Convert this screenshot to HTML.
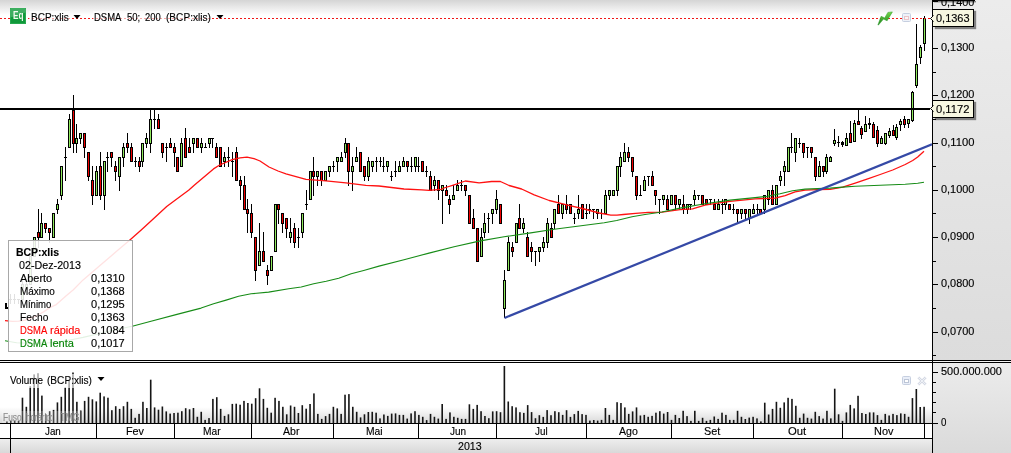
<!DOCTYPE html>
<html><head><meta charset="utf-8"><title>BCP:xlis</title>
<style>
html,body{margin:0;padding:0;background:#fff;}
body{width:1011px;height:453px;overflow:hidden;position:relative;font-family:"Liberation Sans",sans-serif;font-size:11px;color:#000;}
#c{position:absolute;left:0;top:0;width:1011px;height:453px;overflow:hidden;background:#fff;}
.abs{position:absolute;}
#topg{left:0;top:0;width:932px;height:15px;background:linear-gradient(#d5d5d5,#fff);}
#ax1{left:933px;top:0;width:78px;height:360px;background:linear-gradient(#ececec,#dcdcdc);}
#ax2{left:933px;top:363px;width:78px;height:90px;background:linear-gradient(#ececec,#dadada);}
#volg{left:0;top:407px;width:932px;height:16px;background:linear-gradient(#fff,#d9d9d9);}
#yr{left:0;top:439px;width:932px;height:14px;background:linear-gradient(#eeeeee,#d9d9d9);text-align:center;line-height:13px;}
.mo{position:absolute;top:424px;height:14px;line-height:13px;text-align:center;}
.al{position:absolute;left:941px;height:14px;line-height:14px;white-space:nowrap;}
svg{position:absolute;left:0;top:0;}
.tag{position:absolute;left:933px;width:40px;height:16px;background:#f7f7e1;border:1px solid #000;border-left:none;box-shadow:2px 2px 1px rgba(0,0,0,.45);line-height:16px;text-indent:4px;box-sizing:content-box;}
#tip{left:8px;top:240px;width:123px;height:110px;border:1px solid #a8a8a8;background:rgba(255,255,255,.88);}
#tip div{position:absolute;white-space:nowrap;height:13px;line-height:13px;}
.lbl{position:absolute;white-space:nowrap;height:14px;line-height:14px;}
.t{position:absolute;white-space:nowrap;height:13px;line-height:13px;transform-origin:0 0;display:block;-webkit-text-stroke:0.15px currentColor;}
</style></head><body><div id="c">
<div id="topg" class="abs"></div>
<div id="volg" class="abs"></div>
<div id="ax1" class="abs"></div>
<div id="ax2" class="abs"></div>
<div id="yr" class="abs"></div>
<span class="t" style="left:458.3px;top:439.5px;transform:scaleX(0.9645);">2013</span>
<svg width="1011" height="453" viewBox="0 0 1011 453">
<defs><clipPath id="cp"><rect x="5" y="0" width="927" height="360"/></clipPath>
<clipPath id="cv"><rect x="5" y="363" width="927" height="61"/></clipPath></defs>
<g clip-path="url(#cp)">
<g shape-rendering="crispEdges" fill="#000">
<rect x="10" y="294" width="1" height="10"/>
<rect x="9" y="299" width="3" height="1"/>
<rect x="14" y="294" width="1" height="10"/>
<rect x="13" y="299" width="3" height="1"/>
<rect x="18" y="299" width="1" height="5"/>
<rect x="17" y="299" width="3" height="1"/>
<rect x="22" y="280" width="1" height="20"/>
<rect x="21" y="284" width="3" height="16"/>
<rect x="22" y="285" width="1" height="14" fill="#90ea5e"/>
<rect x="26" y="280" width="1" height="10"/>
<rect x="25" y="284" width="3" height="6"/>
<rect x="26" y="285" width="1" height="4" fill="#90ea5e"/>
<rect x="30" y="256" width="1" height="29"/>
<rect x="29" y="256" width="3" height="29"/>
<rect x="30" y="257" width="1" height="27" fill="#90ea5e"/>
<rect x="34" y="237" width="1" height="20"/>
<rect x="33" y="237" width="3" height="20"/>
<rect x="34" y="238" width="1" height="18" fill="#90ea5e"/>
<rect x="38" y="209" width="1" height="39"/>
<rect x="37" y="232" width="3" height="6"/>
<rect x="38" y="233" width="1" height="4" fill="#f00000"/>
<rect x="41" y="213" width="1" height="25"/>
<rect x="40" y="223" width="3" height="15"/>
<rect x="41" y="224" width="1" height="13" fill="#90ea5e"/>
<rect x="45" y="223" width="1" height="10"/>
<rect x="44" y="223" width="3" height="6"/>
<rect x="45" y="224" width="1" height="4" fill="#f00000"/>
<rect x="49" y="228" width="1" height="15"/>
<rect x="48" y="228" width="3" height="5"/>
<rect x="49" y="229" width="1" height="3" fill="#f00000"/>
<rect x="53" y="213" width="1" height="25"/>
<rect x="52" y="213" width="3" height="25"/>
<rect x="53" y="214" width="1" height="23" fill="#90ea5e"/>
<rect x="57" y="199" width="1" height="15"/>
<rect x="56" y="204" width="3" height="6"/>
<rect x="57" y="205" width="1" height="4" fill="#90ea5e"/>
<rect x="61" y="166" width="1" height="34"/>
<rect x="60" y="166" width="3" height="30"/>
<rect x="61" y="167" width="1" height="28" fill="#90ea5e"/>
<rect x="65" y="147" width="1" height="34"/>
<rect x="64" y="157" width="3" height="1"/>
<rect x="69" y="114" width="1" height="34"/>
<rect x="68" y="119" width="3" height="29"/>
<rect x="69" y="120" width="1" height="27" fill="#90ea5e"/>
<rect x="73" y="95" width="1" height="58"/>
<rect x="72" y="110" width="3" height="34"/>
<rect x="73" y="111" width="1" height="32" fill="#f00000"/>
<rect x="76" y="124" width="1" height="29"/>
<rect x="75" y="138" width="3" height="6"/>
<rect x="76" y="139" width="1" height="4" fill="#90ea5e"/>
<rect x="80" y="133" width="1" height="11"/>
<rect x="79" y="133" width="3" height="6"/>
<rect x="80" y="134" width="1" height="4" fill="#90ea5e"/>
<rect x="84" y="133" width="1" height="25"/>
<rect x="83" y="133" width="3" height="15"/>
<rect x="84" y="134" width="1" height="13" fill="#f00000"/>
<rect x="88" y="152" width="1" height="29"/>
<rect x="87" y="152" width="3" height="25"/>
<rect x="88" y="153" width="1" height="23" fill="#f00000"/>
<rect x="92" y="166" width="1" height="39"/>
<rect x="91" y="180" width="3" height="16"/>
<rect x="92" y="181" width="1" height="14" fill="#f00000"/>
<rect x="96" y="166" width="1" height="30"/>
<rect x="95" y="171" width="3" height="25"/>
<rect x="96" y="172" width="1" height="23" fill="#90ea5e"/>
<rect x="100" y="152" width="1" height="48"/>
<rect x="99" y="166" width="3" height="30"/>
<rect x="100" y="167" width="1" height="28" fill="#f00000"/>
<rect x="104" y="161" width="1" height="49"/>
<rect x="103" y="161" width="3" height="35"/>
<rect x="104" y="162" width="1" height="33" fill="#90ea5e"/>
<rect x="107" y="152" width="1" height="20"/>
<rect x="106" y="157" width="3" height="1"/>
<rect x="111" y="152" width="1" height="15"/>
<rect x="110" y="152" width="3" height="6"/>
<rect x="111" y="153" width="1" height="4" fill="#f00000"/>
<rect x="115" y="161" width="1" height="20"/>
<rect x="114" y="166" width="3" height="6"/>
<rect x="115" y="167" width="1" height="4" fill="#f00000"/>
<rect x="119" y="157" width="1" height="34"/>
<rect x="118" y="157" width="3" height="20"/>
<rect x="119" y="158" width="1" height="18" fill="#90ea5e"/>
<rect x="123" y="143" width="1" height="24"/>
<rect x="122" y="147" width="3" height="11"/>
<rect x="123" y="148" width="1" height="9" fill="#90ea5e"/>
<rect x="127" y="133" width="1" height="20"/>
<rect x="126" y="143" width="3" height="5"/>
<rect x="127" y="144" width="1" height="3" fill="#f00000"/>
<rect x="131" y="143" width="1" height="19"/>
<rect x="130" y="147" width="3" height="15"/>
<rect x="131" y="148" width="1" height="13" fill="#f00000"/>
<rect x="135" y="157" width="1" height="10"/>
<rect x="134" y="161" width="3" height="1"/>
<rect x="139" y="157" width="1" height="15"/>
<rect x="138" y="161" width="3" height="6"/>
<rect x="139" y="162" width="1" height="4" fill="#f00000"/>
<rect x="142" y="143" width="1" height="24"/>
<rect x="141" y="143" width="3" height="19"/>
<rect x="142" y="144" width="1" height="17" fill="#90ea5e"/>
<rect x="146" y="133" width="1" height="15"/>
<rect x="145" y="138" width="3" height="6"/>
<rect x="146" y="139" width="1" height="4" fill="#90ea5e"/>
<rect x="150" y="110" width="1" height="43"/>
<rect x="149" y="119" width="3" height="25"/>
<rect x="150" y="120" width="1" height="23" fill="#90ea5e"/>
<rect x="154" y="110" width="1" height="19"/>
<rect x="153" y="119" width="3" height="1"/>
<rect x="158" y="114" width="1" height="15"/>
<rect x="157" y="119" width="3" height="10"/>
<rect x="158" y="120" width="1" height="8" fill="#f00000"/>
<rect x="162" y="143" width="1" height="15"/>
<rect x="161" y="143" width="3" height="10"/>
<rect x="162" y="144" width="1" height="8" fill="#f00000"/>
<rect x="166" y="143" width="1" height="19"/>
<rect x="165" y="147" width="3" height="1"/>
<rect x="170" y="138" width="1" height="10"/>
<rect x="169" y="143" width="3" height="5"/>
<rect x="170" y="144" width="1" height="3" fill="#f00000"/>
<rect x="174" y="143" width="1" height="24"/>
<rect x="173" y="147" width="3" height="6"/>
<rect x="174" y="148" width="1" height="4" fill="#f00000"/>
<rect x="177" y="157" width="1" height="15"/>
<rect x="176" y="157" width="3" height="15"/>
<rect x="177" y="158" width="1" height="13" fill="#f00000"/>
<rect x="181" y="138" width="1" height="29"/>
<rect x="180" y="143" width="3" height="24"/>
<rect x="181" y="144" width="1" height="22" fill="#90ea5e"/>
<rect x="185" y="128" width="1" height="30"/>
<rect x="184" y="138" width="3" height="20"/>
<rect x="185" y="139" width="1" height="18" fill="#f00000"/>
<rect x="189" y="138" width="1" height="15"/>
<rect x="188" y="147" width="3" height="6"/>
<rect x="189" y="148" width="1" height="4" fill="#f00000"/>
<rect x="193" y="138" width="1" height="15"/>
<rect x="192" y="138" width="3" height="6"/>
<rect x="193" y="139" width="1" height="4" fill="#90ea5e"/>
<rect x="197" y="138" width="1" height="10"/>
<rect x="196" y="138" width="3" height="10"/>
<rect x="197" y="139" width="1" height="8" fill="#f00000"/>
<rect x="201" y="138" width="1" height="15"/>
<rect x="200" y="143" width="3" height="5"/>
<rect x="201" y="144" width="1" height="3" fill="#90ea5e"/>
<rect x="205" y="143" width="1" height="5"/>
<rect x="204" y="147" width="3" height="1"/>
<rect x="209" y="138" width="1" height="10"/>
<rect x="208" y="138" width="3" height="6"/>
<rect x="209" y="139" width="1" height="4" fill="#90ea5e"/>
<rect x="212" y="138" width="1" height="10"/>
<rect x="211" y="138" width="3" height="1"/>
<rect x="216" y="143" width="1" height="15"/>
<rect x="215" y="147" width="3" height="11"/>
<rect x="216" y="148" width="1" height="9" fill="#f00000"/>
<rect x="220" y="147" width="1" height="20"/>
<rect x="219" y="147" width="3" height="20"/>
<rect x="220" y="148" width="1" height="18" fill="#f00000"/>
<rect x="224" y="152" width="1" height="15"/>
<rect x="223" y="157" width="3" height="5"/>
<rect x="224" y="158" width="1" height="3" fill="#90ea5e"/>
<rect x="228" y="147" width="1" height="20"/>
<rect x="227" y="157" width="3" height="1"/>
<rect x="232" y="152" width="1" height="25"/>
<rect x="231" y="161" width="3" height="1"/>
<rect x="236" y="147" width="1" height="34"/>
<rect x="235" y="152" width="3" height="29"/>
<rect x="236" y="153" width="1" height="27" fill="#f00000"/>
<rect x="240" y="176" width="1" height="24"/>
<rect x="239" y="180" width="3" height="6"/>
<rect x="240" y="181" width="1" height="4" fill="#f00000"/>
<rect x="244" y="176" width="1" height="34"/>
<rect x="243" y="185" width="3" height="25"/>
<rect x="244" y="186" width="1" height="23" fill="#f00000"/>
<rect x="247" y="199" width="1" height="34"/>
<rect x="246" y="209" width="3" height="5"/>
<rect x="247" y="210" width="1" height="3" fill="#f00000"/>
<rect x="251" y="204" width="1" height="34"/>
<rect x="250" y="213" width="3" height="20"/>
<rect x="251" y="214" width="1" height="18" fill="#f00000"/>
<rect x="255" y="237" width="1" height="44"/>
<rect x="254" y="237" width="3" height="34"/>
<rect x="255" y="238" width="1" height="32" fill="#f00000"/>
<rect x="259" y="223" width="1" height="43"/>
<rect x="258" y="251" width="3" height="15"/>
<rect x="259" y="252" width="1" height="13" fill="#90ea5e"/>
<rect x="263" y="232" width="1" height="30"/>
<rect x="262" y="251" width="3" height="11"/>
<rect x="263" y="252" width="1" height="9" fill="#f00000"/>
<rect x="267" y="265" width="1" height="20"/>
<rect x="266" y="270" width="3" height="6"/>
<rect x="267" y="271" width="1" height="4" fill="#f00000"/>
<rect x="271" y="256" width="1" height="15"/>
<rect x="270" y="256" width="3" height="15"/>
<rect x="271" y="257" width="1" height="13" fill="#90ea5e"/>
<rect x="275" y="204" width="1" height="48"/>
<rect x="274" y="204" width="3" height="48"/>
<rect x="275" y="205" width="1" height="46" fill="#90ea5e"/>
<rect x="278" y="204" width="1" height="20"/>
<rect x="277" y="204" width="3" height="6"/>
<rect x="278" y="205" width="1" height="4" fill="#f00000"/>
<rect x="282" y="213" width="1" height="20"/>
<rect x="281" y="213" width="3" height="11"/>
<rect x="282" y="214" width="1" height="9" fill="#f00000"/>
<rect x="286" y="218" width="1" height="20"/>
<rect x="285" y="218" width="3" height="11"/>
<rect x="286" y="219" width="1" height="9" fill="#f00000"/>
<rect x="290" y="218" width="1" height="25"/>
<rect x="289" y="232" width="3" height="6"/>
<rect x="290" y="233" width="1" height="4" fill="#90ea5e"/>
<rect x="294" y="223" width="1" height="25"/>
<rect x="293" y="228" width="3" height="15"/>
<rect x="294" y="229" width="1" height="13" fill="#f00000"/>
<rect x="298" y="228" width="1" height="20"/>
<rect x="297" y="237" width="3" height="1"/>
<rect x="302" y="213" width="1" height="25"/>
<rect x="301" y="213" width="3" height="20"/>
<rect x="302" y="214" width="1" height="18" fill="#90ea5e"/>
<rect x="306" y="190" width="1" height="20"/>
<rect x="305" y="204" width="3" height="1"/>
<rect x="310" y="171" width="1" height="29"/>
<rect x="309" y="171" width="3" height="29"/>
<rect x="310" y="172" width="1" height="27" fill="#90ea5e"/>
<rect x="313" y="157" width="1" height="39"/>
<rect x="312" y="171" width="3" height="6"/>
<rect x="313" y="172" width="1" height="4" fill="#f00000"/>
<rect x="317" y="171" width="1" height="15"/>
<rect x="316" y="171" width="3" height="6"/>
<rect x="317" y="172" width="1" height="4" fill="#90ea5e"/>
<rect x="321" y="171" width="1" height="15"/>
<rect x="320" y="171" width="3" height="10"/>
<rect x="321" y="172" width="1" height="8" fill="#f00000"/>
<rect x="325" y="171" width="1" height="10"/>
<rect x="324" y="171" width="3" height="10"/>
<rect x="325" y="172" width="1" height="8" fill="#90ea5e"/>
<rect x="329" y="166" width="1" height="11"/>
<rect x="328" y="166" width="3" height="6"/>
<rect x="329" y="167" width="1" height="4" fill="#90ea5e"/>
<rect x="333" y="161" width="1" height="11"/>
<rect x="332" y="166" width="3" height="1"/>
<rect x="337" y="157" width="1" height="15"/>
<rect x="336" y="157" width="3" height="5"/>
<rect x="337" y="158" width="1" height="3" fill="#90ea5e"/>
<rect x="341" y="152" width="1" height="10"/>
<rect x="340" y="157" width="3" height="5"/>
<rect x="341" y="158" width="1" height="3" fill="#90ea5e"/>
<rect x="345" y="138" width="1" height="20"/>
<rect x="344" y="143" width="3" height="10"/>
<rect x="345" y="144" width="1" height="8" fill="#90ea5e"/>
<rect x="348" y="143" width="1" height="43"/>
<rect x="347" y="143" width="3" height="29"/>
<rect x="348" y="144" width="1" height="27" fill="#f00000"/>
<rect x="352" y="157" width="1" height="34"/>
<rect x="351" y="166" width="3" height="6"/>
<rect x="352" y="167" width="1" height="4" fill="#90ea5e"/>
<rect x="356" y="147" width="1" height="15"/>
<rect x="355" y="157" width="3" height="5"/>
<rect x="356" y="158" width="1" height="3" fill="#90ea5e"/>
<rect x="360" y="152" width="1" height="20"/>
<rect x="359" y="152" width="3" height="20"/>
<rect x="360" y="153" width="1" height="18" fill="#f00000"/>
<rect x="364" y="166" width="1" height="15"/>
<rect x="363" y="166" width="3" height="11"/>
<rect x="364" y="167" width="1" height="9" fill="#f00000"/>
<rect x="368" y="157" width="1" height="24"/>
<rect x="367" y="161" width="3" height="16"/>
<rect x="368" y="162" width="1" height="14" fill="#90ea5e"/>
<rect x="372" y="161" width="1" height="11"/>
<rect x="371" y="161" width="3" height="6"/>
<rect x="372" y="162" width="1" height="4" fill="#90ea5e"/>
<rect x="376" y="157" width="1" height="15"/>
<rect x="375" y="161" width="3" height="1"/>
<rect x="380" y="157" width="1" height="10"/>
<rect x="379" y="161" width="3" height="1"/>
<rect x="383" y="157" width="1" height="15"/>
<rect x="382" y="166" width="3" height="1"/>
<rect x="387" y="161" width="1" height="11"/>
<rect x="386" y="161" width="3" height="6"/>
<rect x="387" y="162" width="1" height="4" fill="#90ea5e"/>
<rect x="391" y="171" width="1" height="10"/>
<rect x="390" y="176" width="3" height="1"/>
<rect x="395" y="161" width="1" height="16"/>
<rect x="394" y="171" width="3" height="1"/>
<rect x="399" y="161" width="1" height="11"/>
<rect x="398" y="166" width="3" height="6"/>
<rect x="399" y="167" width="1" height="4" fill="#90ea5e"/>
<rect x="403" y="157" width="1" height="10"/>
<rect x="402" y="161" width="3" height="6"/>
<rect x="403" y="162" width="1" height="4" fill="#90ea5e"/>
<rect x="407" y="161" width="1" height="11"/>
<rect x="406" y="161" width="3" height="6"/>
<rect x="407" y="162" width="1" height="4" fill="#f00000"/>
<rect x="411" y="157" width="1" height="15"/>
<rect x="410" y="166" width="3" height="1"/>
<rect x="415" y="157" width="1" height="15"/>
<rect x="414" y="157" width="3" height="10"/>
<rect x="415" y="158" width="1" height="8" fill="#90ea5e"/>
<rect x="418" y="157" width="1" height="15"/>
<rect x="417" y="166" width="3" height="1"/>
<rect x="422" y="161" width="1" height="11"/>
<rect x="421" y="161" width="3" height="11"/>
<rect x="422" y="162" width="1" height="9" fill="#f00000"/>
<rect x="426" y="166" width="1" height="11"/>
<rect x="425" y="171" width="3" height="1"/>
<rect x="430" y="171" width="1" height="20"/>
<rect x="429" y="176" width="3" height="15"/>
<rect x="430" y="177" width="1" height="13" fill="#f00000"/>
<rect x="434" y="176" width="1" height="15"/>
<rect x="433" y="180" width="3" height="6"/>
<rect x="434" y="181" width="1" height="4" fill="#90ea5e"/>
<rect x="438" y="180" width="1" height="20"/>
<rect x="437" y="180" width="3" height="11"/>
<rect x="438" y="181" width="1" height="9" fill="#f00000"/>
<rect x="442" y="185" width="1" height="39"/>
<rect x="441" y="185" width="3" height="6"/>
<rect x="442" y="186" width="1" height="4" fill="#90ea5e"/>
<rect x="446" y="185" width="1" height="11"/>
<rect x="445" y="190" width="3" height="6"/>
<rect x="446" y="191" width="1" height="4" fill="#f00000"/>
<rect x="449" y="195" width="1" height="19"/>
<rect x="448" y="199" width="3" height="6"/>
<rect x="449" y="200" width="1" height="4" fill="#f00000"/>
<rect x="453" y="185" width="1" height="15"/>
<rect x="452" y="195" width="3" height="5"/>
<rect x="453" y="196" width="1" height="3" fill="#90ea5e"/>
<rect x="457" y="180" width="1" height="11"/>
<rect x="456" y="185" width="3" height="6"/>
<rect x="457" y="186" width="1" height="4" fill="#90ea5e"/>
<rect x="461" y="180" width="1" height="11"/>
<rect x="460" y="185" width="3" height="1"/>
<rect x="465" y="185" width="1" height="11"/>
<rect x="464" y="185" width="3" height="6"/>
<rect x="465" y="186" width="1" height="4" fill="#f00000"/>
<rect x="469" y="195" width="1" height="29"/>
<rect x="468" y="195" width="3" height="29"/>
<rect x="469" y="196" width="1" height="27" fill="#f00000"/>
<rect x="473" y="209" width="1" height="20"/>
<rect x="472" y="218" width="3" height="11"/>
<rect x="473" y="219" width="1" height="9" fill="#f00000"/>
<rect x="477" y="228" width="1" height="34"/>
<rect x="476" y="228" width="3" height="34"/>
<rect x="477" y="229" width="1" height="32" fill="#f00000"/>
<rect x="481" y="228" width="1" height="29"/>
<rect x="480" y="237" width="3" height="20"/>
<rect x="481" y="238" width="1" height="18" fill="#90ea5e"/>
<rect x="484" y="213" width="1" height="25"/>
<rect x="483" y="223" width="3" height="10"/>
<rect x="484" y="224" width="1" height="8" fill="#90ea5e"/>
<rect x="488" y="213" width="1" height="20"/>
<rect x="487" y="218" width="3" height="1"/>
<rect x="492" y="209" width="1" height="15"/>
<rect x="491" y="209" width="3" height="5"/>
<rect x="492" y="210" width="1" height="3" fill="#90ea5e"/>
<rect x="496" y="190" width="1" height="24"/>
<rect x="495" y="199" width="3" height="11"/>
<rect x="496" y="200" width="1" height="9" fill="#90ea5e"/>
<rect x="500" y="204" width="1" height="20"/>
<rect x="499" y="204" width="3" height="20"/>
<rect x="500" y="205" width="1" height="18" fill="#f00000"/>
<rect x="504" y="270" width="1" height="48"/>
<rect x="503" y="280" width="3" height="29"/>
<rect x="504" y="281" width="1" height="27" fill="#90ea5e"/>
<rect x="508" y="237" width="1" height="34"/>
<rect x="507" y="242" width="3" height="29"/>
<rect x="508" y="243" width="1" height="27" fill="#90ea5e"/>
<rect x="512" y="242" width="1" height="15"/>
<rect x="511" y="247" width="3" height="5"/>
<rect x="512" y="248" width="1" height="3" fill="#f00000"/>
<rect x="516" y="223" width="1" height="20"/>
<rect x="515" y="223" width="3" height="20"/>
<rect x="516" y="224" width="1" height="18" fill="#90ea5e"/>
<rect x="519" y="204" width="1" height="25"/>
<rect x="518" y="218" width="3" height="11"/>
<rect x="519" y="219" width="1" height="9" fill="#f00000"/>
<rect x="523" y="218" width="1" height="15"/>
<rect x="522" y="223" width="3" height="6"/>
<rect x="523" y="224" width="1" height="4" fill="#90ea5e"/>
<rect x="527" y="232" width="1" height="25"/>
<rect x="526" y="237" width="3" height="20"/>
<rect x="527" y="238" width="1" height="18" fill="#f00000"/>
<rect x="531" y="242" width="1" height="20"/>
<rect x="530" y="247" width="3" height="5"/>
<rect x="531" y="248" width="1" height="3" fill="#f00000"/>
<rect x="535" y="251" width="1" height="15"/>
<rect x="534" y="251" width="3" height="1"/>
<rect x="539" y="247" width="1" height="15"/>
<rect x="538" y="247" width="3" height="5"/>
<rect x="539" y="248" width="1" height="3" fill="#90ea5e"/>
<rect x="543" y="237" width="1" height="15"/>
<rect x="542" y="242" width="3" height="6"/>
<rect x="543" y="243" width="1" height="4" fill="#90ea5e"/>
<rect x="547" y="218" width="1" height="30"/>
<rect x="546" y="223" width="3" height="20"/>
<rect x="547" y="224" width="1" height="18" fill="#90ea5e"/>
<rect x="551" y="223" width="1" height="15"/>
<rect x="550" y="228" width="3" height="10"/>
<rect x="551" y="229" width="1" height="8" fill="#f00000"/>
<rect x="554" y="209" width="1" height="20"/>
<rect x="553" y="209" width="3" height="15"/>
<rect x="554" y="210" width="1" height="13" fill="#90ea5e"/>
<rect x="558" y="195" width="1" height="19"/>
<rect x="557" y="204" width="3" height="10"/>
<rect x="558" y="205" width="1" height="8" fill="#f00000"/>
<rect x="562" y="204" width="1" height="15"/>
<rect x="561" y="204" width="3" height="10"/>
<rect x="562" y="205" width="1" height="8" fill="#90ea5e"/>
<rect x="566" y="195" width="1" height="19"/>
<rect x="565" y="204" width="3" height="6"/>
<rect x="566" y="205" width="1" height="4" fill="#f00000"/>
<rect x="570" y="204" width="1" height="10"/>
<rect x="569" y="204" width="3" height="10"/>
<rect x="570" y="205" width="1" height="8" fill="#f00000"/>
<rect x="574" y="213" width="1" height="11"/>
<rect x="573" y="218" width="3" height="1"/>
<rect x="578" y="195" width="1" height="24"/>
<rect x="577" y="209" width="3" height="5"/>
<rect x="578" y="210" width="1" height="3" fill="#90ea5e"/>
<rect x="582" y="204" width="1" height="15"/>
<rect x="581" y="204" width="3" height="15"/>
<rect x="582" y="205" width="1" height="13" fill="#f00000"/>
<rect x="586" y="204" width="1" height="15"/>
<rect x="585" y="213" width="3" height="1"/>
<rect x="589" y="204" width="1" height="10"/>
<rect x="588" y="209" width="3" height="1"/>
<rect x="593" y="209" width="1" height="10"/>
<rect x="592" y="209" width="3" height="1"/>
<rect x="597" y="209" width="1" height="10"/>
<rect x="596" y="209" width="3" height="5"/>
<rect x="597" y="210" width="1" height="3" fill="#90ea5e"/>
<rect x="601" y="209" width="1" height="10"/>
<rect x="600" y="213" width="3" height="1"/>
<rect x="605" y="190" width="1" height="24"/>
<rect x="604" y="195" width="3" height="19"/>
<rect x="605" y="196" width="1" height="17" fill="#90ea5e"/>
<rect x="609" y="190" width="1" height="10"/>
<rect x="608" y="190" width="3" height="6"/>
<rect x="609" y="191" width="1" height="4" fill="#90ea5e"/>
<rect x="613" y="190" width="1" height="6"/>
<rect x="612" y="190" width="3" height="6"/>
<rect x="613" y="191" width="1" height="4" fill="#90ea5e"/>
<rect x="617" y="166" width="1" height="30"/>
<rect x="616" y="166" width="3" height="25"/>
<rect x="617" y="167" width="1" height="23" fill="#90ea5e"/>
<rect x="620" y="152" width="1" height="25"/>
<rect x="619" y="157" width="3" height="10"/>
<rect x="620" y="158" width="1" height="8" fill="#90ea5e"/>
<rect x="624" y="143" width="1" height="19"/>
<rect x="623" y="152" width="3" height="10"/>
<rect x="624" y="153" width="1" height="8" fill="#90ea5e"/>
<rect x="628" y="147" width="1" height="15"/>
<rect x="627" y="152" width="3" height="6"/>
<rect x="628" y="153" width="1" height="4" fill="#f00000"/>
<rect x="632" y="157" width="1" height="20"/>
<rect x="631" y="157" width="3" height="15"/>
<rect x="632" y="158" width="1" height="13" fill="#f00000"/>
<rect x="636" y="176" width="1" height="24"/>
<rect x="635" y="176" width="3" height="20"/>
<rect x="636" y="177" width="1" height="18" fill="#f00000"/>
<rect x="640" y="185" width="1" height="11"/>
<rect x="639" y="195" width="3" height="1"/>
<rect x="644" y="176" width="1" height="15"/>
<rect x="643" y="180" width="3" height="11"/>
<rect x="644" y="181" width="1" height="9" fill="#90ea5e"/>
<rect x="648" y="176" width="1" height="10"/>
<rect x="647" y="176" width="3" height="1"/>
<rect x="652" y="171" width="1" height="15"/>
<rect x="651" y="176" width="3" height="10"/>
<rect x="652" y="177" width="1" height="8" fill="#f00000"/>
<rect x="655" y="190" width="1" height="15"/>
<rect x="654" y="190" width="3" height="6"/>
<rect x="655" y="191" width="1" height="4" fill="#f00000"/>
<rect x="659" y="199" width="1" height="15"/>
<rect x="658" y="199" width="3" height="1"/>
<rect x="663" y="195" width="1" height="10"/>
<rect x="662" y="195" width="3" height="5"/>
<rect x="663" y="196" width="1" height="3" fill="#90ea5e"/>
<rect x="667" y="195" width="1" height="15"/>
<rect x="666" y="199" width="3" height="11"/>
<rect x="667" y="200" width="1" height="9" fill="#f00000"/>
<rect x="671" y="195" width="1" height="10"/>
<rect x="670" y="195" width="3" height="10"/>
<rect x="671" y="196" width="1" height="8" fill="#90ea5e"/>
<rect x="675" y="195" width="1" height="15"/>
<rect x="674" y="195" width="3" height="10"/>
<rect x="675" y="196" width="1" height="8" fill="#f00000"/>
<rect x="679" y="199" width="1" height="11"/>
<rect x="678" y="199" width="3" height="6"/>
<rect x="679" y="200" width="1" height="4" fill="#90ea5e"/>
<rect x="683" y="195" width="1" height="19"/>
<rect x="682" y="204" width="3" height="6"/>
<rect x="683" y="205" width="1" height="4" fill="#f00000"/>
<rect x="687" y="204" width="1" height="10"/>
<rect x="686" y="204" width="3" height="6"/>
<rect x="687" y="205" width="1" height="4" fill="#90ea5e"/>
<rect x="690" y="204" width="1" height="6"/>
<rect x="689" y="204" width="3" height="1"/>
<rect x="694" y="190" width="1" height="15"/>
<rect x="693" y="195" width="3" height="5"/>
<rect x="694" y="196" width="1" height="3" fill="#90ea5e"/>
<rect x="698" y="195" width="1" height="5"/>
<rect x="697" y="195" width="3" height="1"/>
<rect x="702" y="195" width="1" height="10"/>
<rect x="701" y="195" width="3" height="10"/>
<rect x="702" y="196" width="1" height="8" fill="#f00000"/>
<rect x="706" y="199" width="1" height="6"/>
<rect x="705" y="199" width="3" height="6"/>
<rect x="706" y="200" width="1" height="4" fill="#f00000"/>
<rect x="710" y="199" width="1" height="6"/>
<rect x="709" y="199" width="3" height="1"/>
<rect x="714" y="199" width="1" height="11"/>
<rect x="713" y="204" width="3" height="6"/>
<rect x="714" y="205" width="1" height="4" fill="#f00000"/>
<rect x="718" y="199" width="1" height="11"/>
<rect x="717" y="204" width="3" height="6"/>
<rect x="718" y="205" width="1" height="4" fill="#90ea5e"/>
<rect x="722" y="199" width="1" height="15"/>
<rect x="721" y="204" width="3" height="1"/>
<rect x="725" y="199" width="1" height="11"/>
<rect x="724" y="199" width="3" height="6"/>
<rect x="725" y="200" width="1" height="4" fill="#90ea5e"/>
<rect x="729" y="204" width="1" height="6"/>
<rect x="728" y="204" width="3" height="6"/>
<rect x="729" y="205" width="1" height="4" fill="#f00000"/>
<rect x="733" y="204" width="1" height="10"/>
<rect x="732" y="209" width="3" height="1"/>
<rect x="737" y="209" width="1" height="15"/>
<rect x="736" y="209" width="3" height="5"/>
<rect x="737" y="210" width="1" height="3" fill="#f00000"/>
<rect x="741" y="209" width="1" height="10"/>
<rect x="740" y="209" width="3" height="5"/>
<rect x="741" y="210" width="1" height="3" fill="#90ea5e"/>
<rect x="745" y="209" width="1" height="10"/>
<rect x="744" y="209" width="3" height="5"/>
<rect x="745" y="210" width="1" height="3" fill="#f00000"/>
<rect x="749" y="209" width="1" height="15"/>
<rect x="748" y="209" width="3" height="10"/>
<rect x="749" y="210" width="1" height="8" fill="#90ea5e"/>
<rect x="753" y="204" width="1" height="10"/>
<rect x="752" y="209" width="3" height="5"/>
<rect x="753" y="210" width="1" height="3" fill="#90ea5e"/>
<rect x="757" y="204" width="1" height="10"/>
<rect x="756" y="209" width="3" height="1"/>
<rect x="760" y="209" width="1" height="5"/>
<rect x="759" y="209" width="3" height="5"/>
<rect x="760" y="210" width="1" height="3" fill="#f00000"/>
<rect x="764" y="195" width="1" height="19"/>
<rect x="763" y="195" width="3" height="15"/>
<rect x="764" y="196" width="1" height="13" fill="#90ea5e"/>
<rect x="768" y="190" width="1" height="15"/>
<rect x="767" y="190" width="3" height="10"/>
<rect x="768" y="191" width="1" height="8" fill="#90ea5e"/>
<rect x="772" y="185" width="1" height="20"/>
<rect x="771" y="190" width="3" height="15"/>
<rect x="772" y="191" width="1" height="13" fill="#f00000"/>
<rect x="776" y="185" width="1" height="20"/>
<rect x="775" y="185" width="3" height="20"/>
<rect x="776" y="186" width="1" height="18" fill="#90ea5e"/>
<rect x="780" y="171" width="1" height="15"/>
<rect x="779" y="176" width="3" height="5"/>
<rect x="780" y="177" width="1" height="3" fill="#90ea5e"/>
<rect x="784" y="161" width="1" height="25"/>
<rect x="783" y="166" width="3" height="6"/>
<rect x="784" y="167" width="1" height="4" fill="#90ea5e"/>
<rect x="788" y="147" width="1" height="25"/>
<rect x="787" y="147" width="3" height="25"/>
<rect x="788" y="148" width="1" height="23" fill="#90ea5e"/>
<rect x="791" y="133" width="1" height="20"/>
<rect x="790" y="147" width="3" height="1"/>
<rect x="795" y="138" width="1" height="24"/>
<rect x="794" y="138" width="3" height="15"/>
<rect x="795" y="139" width="1" height="13" fill="#90ea5e"/>
<rect x="799" y="138" width="1" height="10"/>
<rect x="798" y="143" width="3" height="1"/>
<rect x="803" y="143" width="1" height="15"/>
<rect x="802" y="143" width="3" height="10"/>
<rect x="803" y="144" width="1" height="8" fill="#f00000"/>
<rect x="807" y="147" width="1" height="11"/>
<rect x="806" y="147" width="3" height="1"/>
<rect x="811" y="147" width="1" height="11"/>
<rect x="810" y="147" width="3" height="6"/>
<rect x="811" y="148" width="1" height="4" fill="#f00000"/>
<rect x="815" y="157" width="1" height="24"/>
<rect x="814" y="157" width="3" height="20"/>
<rect x="815" y="158" width="1" height="18" fill="#f00000"/>
<rect x="819" y="161" width="1" height="16"/>
<rect x="818" y="166" width="3" height="11"/>
<rect x="819" y="167" width="1" height="9" fill="#90ea5e"/>
<rect x="823" y="166" width="1" height="11"/>
<rect x="822" y="166" width="3" height="6"/>
<rect x="823" y="167" width="1" height="4" fill="#f00000"/>
<rect x="826" y="154" width="1" height="20"/>
<rect x="825" y="157" width="3" height="15"/>
<rect x="826" y="158" width="1" height="13" fill="#90ea5e"/>
<rect x="830" y="156" width="1" height="6"/>
<rect x="829" y="157" width="3" height="5"/>
<rect x="830" y="158" width="1" height="3" fill="#90ea5e"/>
<rect x="834" y="129" width="1" height="17"/>
<rect x="833" y="140" width="3" height="4"/>
<rect x="834" y="141" width="1" height="2" fill="#90ea5e"/>
<rect x="838" y="136" width="1" height="11"/>
<rect x="837" y="142" width="3" height="1"/>
<rect x="842" y="141" width="1" height="6"/>
<rect x="841" y="142" width="3" height="3"/>
<rect x="846" y="133" width="1" height="13"/>
<rect x="845" y="138" width="3" height="8"/>
<rect x="846" y="139" width="1" height="6" fill="#90ea5e"/>
<rect x="850" y="121" width="1" height="22"/>
<rect x="849" y="133" width="3" height="10"/>
<rect x="850" y="134" width="1" height="8" fill="#f00000"/>
<rect x="854" y="120" width="1" height="22"/>
<rect x="853" y="123" width="3" height="19"/>
<rect x="854" y="124" width="1" height="17" fill="#90ea5e"/>
<rect x="858" y="110" width="1" height="15"/>
<rect x="857" y="121" width="3" height="4"/>
<rect x="858" y="122" width="1" height="2" fill="#f00000"/>
<rect x="861" y="126" width="1" height="13"/>
<rect x="860" y="128" width="3" height="7"/>
<rect x="861" y="129" width="1" height="5" fill="#f00000"/>
<rect x="865" y="116" width="1" height="16"/>
<rect x="864" y="124" width="3" height="8"/>
<rect x="865" y="125" width="1" height="6" fill="#90ea5e"/>
<rect x="869" y="118" width="1" height="11"/>
<rect x="868" y="123" width="3" height="2"/>
<rect x="873" y="122" width="1" height="16"/>
<rect x="872" y="124" width="3" height="14"/>
<rect x="873" y="125" width="1" height="12" fill="#f00000"/>
<rect x="877" y="126" width="1" height="21"/>
<rect x="876" y="130" width="3" height="14"/>
<rect x="877" y="131" width="1" height="12" fill="#f00000"/>
<rect x="881" y="136" width="1" height="8"/>
<rect x="880" y="138" width="3" height="6"/>
<rect x="881" y="139" width="1" height="4" fill="#90ea5e"/>
<rect x="885" y="133" width="1" height="12"/>
<rect x="884" y="133" width="3" height="11"/>
<rect x="885" y="134" width="1" height="9" fill="#90ea5e"/>
<rect x="889" y="128" width="1" height="10"/>
<rect x="888" y="131" width="3" height="5"/>
<rect x="889" y="132" width="1" height="3" fill="#90ea5e"/>
<rect x="893" y="125" width="1" height="11"/>
<rect x="892" y="130" width="3" height="6"/>
<rect x="893" y="131" width="1" height="4" fill="#f00000"/>
<rect x="896" y="124" width="1" height="16"/>
<rect x="895" y="127" width="3" height="11"/>
<rect x="896" y="128" width="1" height="9" fill="#90ea5e"/>
<rect x="900" y="119" width="1" height="12"/>
<rect x="899" y="121" width="3" height="4"/>
<rect x="900" y="122" width="1" height="2" fill="#90ea5e"/>
<rect x="904" y="116" width="1" height="12"/>
<rect x="903" y="119" width="3" height="6"/>
<rect x="904" y="120" width="1" height="4" fill="#f00000"/>
<rect x="908" y="119" width="1" height="9"/>
<rect x="907" y="119" width="3" height="5"/>
<rect x="908" y="120" width="1" height="3" fill="#90ea5e"/>
<rect x="912" y="91" width="1" height="31"/>
<rect x="911" y="92" width="3" height="29"/>
<rect x="912" y="93" width="1" height="27" fill="#90ea5e"/>
<rect x="916" y="24" width="1" height="64"/>
<rect x="915" y="64" width="3" height="22"/>
<rect x="916" y="65" width="1" height="20" fill="#90ea5e"/>
<rect x="920" y="45" width="1" height="19"/>
<rect x="919" y="47" width="3" height="11"/>
<rect x="920" y="48" width="1" height="9" fill="#90ea5e"/>
<rect x="924" y="16" width="1" height="35"/>
<rect x="923" y="18" width="3" height="26"/>
<rect x="924" y="19" width="1" height="24" fill="#90ea5e"/>
<rect x="5" y="303" width="2" height="6"/><rect x="5" y="307" width="3" height="2"/>
</g>
<path d="M5.0,320.6 L12.5,321.4 L18.7,321.2 L24.9,320.2 L31.2,318.1 L37.4,315.3 L43.6,311.9 L49.8,307.6 L56.3,304.6 L66.5,295.5 L73.1,290.0 L83.1,279.9 L99.7,265.7 L116.3,251.6 L129.6,240.2 L141.2,230.0 L151.0,221.0 L166.7,206.5 L176.1,199.5 L188.6,190.3 L194.8,184.8 L213.5,168.9 L219.7,165.0 L232.2,159.6 L240.0,157.8 L247.0,157.2 L254.0,158.6 L260.0,161.0 L269.0,167.0 L278.0,171.0 L286.0,173.8 L296.0,176.7 L306.0,179.4 L326.0,180.9 L345.9,182.8 L365.8,185.3 L379.0,186.0 L404.0,189.0 L422.0,189.8 L429.0,190.3 L441.0,189.3 L444.0,188.0 L454.1,184.8 L465.3,181.0 L479.1,182.8 L491.6,181.5 L500.4,181.5 L509.1,185.5 L521.6,189.0 L534.2,194.8 L549.2,200.5 L566.7,204.8 L584.2,209.0 L599.2,213.0 L610.8,215.1 L617.0,215.2 L623.3,214.5 L635.7,213.3 L648.2,212.4 L662.0,212.2 L680.0,209.6 L692.5,208.8 L705.0,205.1 L717.5,203.1 L730.0,201.3 L755.1,198.8 L775.1,198.1 L785.1,195.6 L795.1,191.8 L805.1,190.1 L817.6,189.6 L830.2,189.3 L842.7,187.1 L855.2,183.1 L867.7,178.8 L880.2,174.5 L892.7,170.0 L905.2,164.5 L912.7,160.5 L917.7,157.0 L924.0,151.3" fill="none" stroke="#ff1212" stroke-width="1.3" stroke-linejoin="round"/>
<path d="M5.0,340.7 L16.6,342.8 L33.2,343.5 L49.9,342.8 L66.5,340.7 L83.1,337.4 L99.7,333.5 L116.3,329.5 L132.3,326.3 L151.0,321.3 L176.0,314.6 L201.1,308.1 L213.6,303.8 L226.1,300.1 L238.6,296.3 L251.1,293.8 L268.6,292.1 L288.7,288.8 L301.2,287.0 L313.7,283.8 L326.2,281.3 L338.7,278.3 L351.2,273.8 L363.7,270.5 L379.0,266.1 L404.0,259.8 L429.0,253.1 L454.1,246.8 L479.1,241.1 L504.1,236.8 L529.1,233.1 L554.2,229.3 L579.2,226.0 L604.2,222.8 L616.7,220.5 L632.0,216.8 L645.0,214.5 L662.0,212.0 L680.0,208.1 L705.0,203.8 L730.0,200.1 L755.1,197.6 L767.6,196.3 L780.1,193.8 L792.6,190.8 L805.1,189.1 L817.6,188.6 L830.2,188.1 L842.7,187.1 L855.2,186.3 L880.2,185.3 L905.2,184.3 L917.7,183.3 L924.0,182.3" fill="none" stroke="#178c17" stroke-width="1.1" stroke-linejoin="round"/>
<line x1="504.5" y1="317.9" x2="932" y2="144.2" stroke="#3549a6" stroke-width="2.2"/>
</g>
<g shape-rendering="crispEdges" fill="#000">
<rect x="0" y="108" width="930" height="2"/>
</g>
<line x1="0" y1="18.5" x2="930" y2="18.5" stroke="#f01818" stroke-width="1" stroke-dasharray="2 2" shape-rendering="crispEdges"/>
<g clip-path="url(#cv)" fill="#151515">
<rect x="6.11" y="421.5" width="1.6" height="1.5"/>
<rect x="10.00" y="421.0" width="1.6" height="2.0"/>
<rect x="13.89" y="421.0" width="1.6" height="2.0"/>
<rect x="17.77" y="421.0" width="1.6" height="2.0"/>
<rect x="21.66" y="397.7" width="1.6" height="25.3"/>
<rect x="25.55" y="406.8" width="1.6" height="16.2"/>
<rect x="29.43" y="386.2" width="1.6" height="36.8"/>
<rect x="33.32" y="374.4" width="1.6" height="48.6"/>
<rect x="37.20" y="373.7" width="1.6" height="49.3"/>
<rect x="41.09" y="395.6" width="1.6" height="27.4"/>
<rect x="44.98" y="414.3" width="1.6" height="8.7"/>
<rect x="48.86" y="411.2" width="1.6" height="11.8"/>
<rect x="52.75" y="409.9" width="1.6" height="13.1"/>
<rect x="56.64" y="402.4" width="1.6" height="20.6"/>
<rect x="60.52" y="396.8" width="1.6" height="26.2"/>
<rect x="64.41" y="387.5" width="1.6" height="35.5"/>
<rect x="68.30" y="380.6" width="1.6" height="42.4"/>
<rect x="72.18" y="372.5" width="1.6" height="50.5"/>
<rect x="76.07" y="401.8" width="1.6" height="21.2"/>
<rect x="79.96" y="410.5" width="1.6" height="12.5"/>
<rect x="83.84" y="400.9" width="1.6" height="22.1"/>
<rect x="87.73" y="396.8" width="1.6" height="26.2"/>
<rect x="91.61" y="399.3" width="1.6" height="23.7"/>
<rect x="95.50" y="401.4" width="1.6" height="21.6"/>
<rect x="99.39" y="392.7" width="1.6" height="30.3"/>
<rect x="103.27" y="396.4" width="1.6" height="26.6"/>
<rect x="107.16" y="397.7" width="1.6" height="25.3"/>
<rect x="111.05" y="410.2" width="1.6" height="12.8"/>
<rect x="114.93" y="406.2" width="1.6" height="16.8"/>
<rect x="118.82" y="408.9" width="1.6" height="14.1"/>
<rect x="122.71" y="406.2" width="1.6" height="16.8"/>
<rect x="126.59" y="401.8" width="1.6" height="21.2"/>
<rect x="130.48" y="408.9" width="1.6" height="14.1"/>
<rect x="134.36" y="417.8" width="1.6" height="5.2"/>
<rect x="138.25" y="413.9" width="1.6" height="9.1"/>
<rect x="142.14" y="401.8" width="1.6" height="21.2"/>
<rect x="146.02" y="408.0" width="1.6" height="15.0"/>
<rect x="149.91" y="379.7" width="1.6" height="43.3"/>
<rect x="153.80" y="407.4" width="1.6" height="15.6"/>
<rect x="157.68" y="409.7" width="1.6" height="13.3"/>
<rect x="161.57" y="406.5" width="1.6" height="16.5"/>
<rect x="165.46" y="411.4" width="1.6" height="11.6"/>
<rect x="169.34" y="413.6" width="1.6" height="9.4"/>
<rect x="173.23" y="413.0" width="1.6" height="10.0"/>
<rect x="177.12" y="412.7" width="1.6" height="10.3"/>
<rect x="181.00" y="411.2" width="1.6" height="11.8"/>
<rect x="184.89" y="408.2" width="1.6" height="14.8"/>
<rect x="188.77" y="409.3" width="1.6" height="13.7"/>
<rect x="192.66" y="408.0" width="1.6" height="15.0"/>
<rect x="196.55" y="416.8" width="1.6" height="6.2"/>
<rect x="200.43" y="411.8" width="1.6" height="11.2"/>
<rect x="204.32" y="419.9" width="1.6" height="3.1"/>
<rect x="208.21" y="418.1" width="1.6" height="4.9"/>
<rect x="212.09" y="398.9" width="1.6" height="24.1"/>
<rect x="215.98" y="397.2" width="1.6" height="25.8"/>
<rect x="219.87" y="408.9" width="1.6" height="14.1"/>
<rect x="223.75" y="415.9" width="1.6" height="7.1"/>
<rect x="227.64" y="414.3" width="1.6" height="8.7"/>
<rect x="231.52" y="403.9" width="1.6" height="19.1"/>
<rect x="235.41" y="403.7" width="1.6" height="19.3"/>
<rect x="239.30" y="404.7" width="1.6" height="18.3"/>
<rect x="243.18" y="400.9" width="1.6" height="22.1"/>
<rect x="247.07" y="403.0" width="1.6" height="20.0"/>
<rect x="250.96" y="403.7" width="1.6" height="19.3"/>
<rect x="254.84" y="398.2" width="1.6" height="24.8"/>
<rect x="258.73" y="388.3" width="1.6" height="34.7"/>
<rect x="262.62" y="398.9" width="1.6" height="24.1"/>
<rect x="266.50" y="407.8" width="1.6" height="15.2"/>
<rect x="270.39" y="412.7" width="1.6" height="10.3"/>
<rect x="274.28" y="397.8" width="1.6" height="25.2"/>
<rect x="278.16" y="400.9" width="1.6" height="22.1"/>
<rect x="282.05" y="406.8" width="1.6" height="16.2"/>
<rect x="285.93" y="414.3" width="1.6" height="8.7"/>
<rect x="289.82" y="405.5" width="1.6" height="17.5"/>
<rect x="293.71" y="406.8" width="1.6" height="16.2"/>
<rect x="297.59" y="413.0" width="1.6" height="10.0"/>
<rect x="301.48" y="405.2" width="1.6" height="17.8"/>
<rect x="305.37" y="408.7" width="1.6" height="14.3"/>
<rect x="309.25" y="404.0" width="1.6" height="19.0"/>
<rect x="313.14" y="393.4" width="1.6" height="29.6"/>
<rect x="317.03" y="413.9" width="1.6" height="9.1"/>
<rect x="320.91" y="418.9" width="1.6" height="4.1"/>
<rect x="324.80" y="416.1" width="1.6" height="6.9"/>
<rect x="328.68" y="413.9" width="1.6" height="9.1"/>
<rect x="332.57" y="406.8" width="1.6" height="16.2"/>
<rect x="336.46" y="408.4" width="1.6" height="14.6"/>
<rect x="340.34" y="413.9" width="1.6" height="9.1"/>
<rect x="344.23" y="394.7" width="1.6" height="28.3"/>
<rect x="348.12" y="394.1" width="1.6" height="28.9"/>
<rect x="352.00" y="406.8" width="1.6" height="16.2"/>
<rect x="355.89" y="411.8" width="1.6" height="11.2"/>
<rect x="359.78" y="417.4" width="1.6" height="5.6"/>
<rect x="363.66" y="414.3" width="1.6" height="8.7"/>
<rect x="367.55" y="412.0" width="1.6" height="11.0"/>
<rect x="371.44" y="411.8" width="1.6" height="11.2"/>
<rect x="375.32" y="412.7" width="1.6" height="10.3"/>
<rect x="379.21" y="418.4" width="1.6" height="4.6"/>
<rect x="383.09" y="414.5" width="1.6" height="8.5"/>
<rect x="386.98" y="415.9" width="1.6" height="7.1"/>
<rect x="390.87" y="413.6" width="1.6" height="9.4"/>
<rect x="394.75" y="413.4" width="1.6" height="9.6"/>
<rect x="398.64" y="414.9" width="1.6" height="8.1"/>
<rect x="402.53" y="414.9" width="1.6" height="8.1"/>
<rect x="406.41" y="418.6" width="1.6" height="4.4"/>
<rect x="410.30" y="413.4" width="1.6" height="9.6"/>
<rect x="414.19" y="411.2" width="1.6" height="11.8"/>
<rect x="418.07" y="414.9" width="1.6" height="8.1"/>
<rect x="421.96" y="416.8" width="1.6" height="6.2"/>
<rect x="425.84" y="420.1" width="1.6" height="2.9"/>
<rect x="429.73" y="413.9" width="1.6" height="9.1"/>
<rect x="433.62" y="416.8" width="1.6" height="6.2"/>
<rect x="437.50" y="418.6" width="1.6" height="4.4"/>
<rect x="441.39" y="404.0" width="1.6" height="19.0"/>
<rect x="445.28" y="418.9" width="1.6" height="4.1"/>
<rect x="449.16" y="412.4" width="1.6" height="10.6"/>
<rect x="453.05" y="416.8" width="1.6" height="6.2"/>
<rect x="456.94" y="417.8" width="1.6" height="5.2"/>
<rect x="460.82" y="418.9" width="1.6" height="4.1"/>
<rect x="464.71" y="418.9" width="1.6" height="4.1"/>
<rect x="468.60" y="404.3" width="1.6" height="18.7"/>
<rect x="472.48" y="408.9" width="1.6" height="14.1"/>
<rect x="476.37" y="404.9" width="1.6" height="18.1"/>
<rect x="480.25" y="411.2" width="1.6" height="11.8"/>
<rect x="484.14" y="416.0" width="1.6" height="7.0"/>
<rect x="488.03" y="418.2" width="1.6" height="4.8"/>
<rect x="491.91" y="411.4" width="1.6" height="11.6"/>
<rect x="495.80" y="411.2" width="1.6" height="11.8"/>
<rect x="499.69" y="412.2" width="1.6" height="10.8"/>
<rect x="503.57" y="366.0" width="1.6" height="57.0"/>
<rect x="507.46" y="401.5" width="1.6" height="21.5"/>
<rect x="511.35" y="406.2" width="1.6" height="16.8"/>
<rect x="515.23" y="407.4" width="1.6" height="15.6"/>
<rect x="519.12" y="412.2" width="1.6" height="10.8"/>
<rect x="523.00" y="412.9" width="1.6" height="10.1"/>
<rect x="526.89" y="405.1" width="1.6" height="17.9"/>
<rect x="530.78" y="412.1" width="1.6" height="10.9"/>
<rect x="534.66" y="418.2" width="1.6" height="4.8"/>
<rect x="538.55" y="415.2" width="1.6" height="7.8"/>
<rect x="542.44" y="416.9" width="1.6" height="6.1"/>
<rect x="546.32" y="410.1" width="1.6" height="12.9"/>
<rect x="550.21" y="415.2" width="1.6" height="7.8"/>
<rect x="554.10" y="411.2" width="1.6" height="11.8"/>
<rect x="557.98" y="412.2" width="1.6" height="10.8"/>
<rect x="561.87" y="414.9" width="1.6" height="8.1"/>
<rect x="565.76" y="410.2" width="1.6" height="12.8"/>
<rect x="569.64" y="416.9" width="1.6" height="6.1"/>
<rect x="573.53" y="414.1" width="1.6" height="8.9"/>
<rect x="577.41" y="410.9" width="1.6" height="12.1"/>
<rect x="581.30" y="414.1" width="1.6" height="8.9"/>
<rect x="585.19" y="414.9" width="1.6" height="8.1"/>
<rect x="589.07" y="420.6" width="1.6" height="2.4"/>
<rect x="592.96" y="420.0" width="1.6" height="3.0"/>
<rect x="596.85" y="420.6" width="1.6" height="2.4"/>
<rect x="600.73" y="419.9" width="1.6" height="3.1"/>
<rect x="604.62" y="408.0" width="1.6" height="15.0"/>
<rect x="608.51" y="414.9" width="1.6" height="8.1"/>
<rect x="612.39" y="419.9" width="1.6" height="3.1"/>
<rect x="616.28" y="402.2" width="1.6" height="20.8"/>
<rect x="620.16" y="403.0" width="1.6" height="20.0"/>
<rect x="624.05" y="407.4" width="1.6" height="15.6"/>
<rect x="627.94" y="413.9" width="1.6" height="9.1"/>
<rect x="631.82" y="411.4" width="1.6" height="11.6"/>
<rect x="635.71" y="407.4" width="1.6" height="15.6"/>
<rect x="639.60" y="415.5" width="1.6" height="7.5"/>
<rect x="643.48" y="414.9" width="1.6" height="8.1"/>
<rect x="647.37" y="416.8" width="1.6" height="6.2"/>
<rect x="651.26" y="415.9" width="1.6" height="7.1"/>
<rect x="655.14" y="412.7" width="1.6" height="10.3"/>
<rect x="659.03" y="411.2" width="1.6" height="11.8"/>
<rect x="662.92" y="413.6" width="1.6" height="9.4"/>
<rect x="666.80" y="412.0" width="1.6" height="11.0"/>
<rect x="670.69" y="419.9" width="1.6" height="3.1"/>
<rect x="674.57" y="414.9" width="1.6" height="8.1"/>
<rect x="678.46" y="418.0" width="1.6" height="5.0"/>
<rect x="682.35" y="410.8" width="1.6" height="12.2"/>
<rect x="686.23" y="416.1" width="1.6" height="6.9"/>
<rect x="690.12" y="420.9" width="1.6" height="2.1"/>
<rect x="694.01" y="410.8" width="1.6" height="12.2"/>
<rect x="697.89" y="420.9" width="1.6" height="2.1"/>
<rect x="701.78" y="417.8" width="1.6" height="5.2"/>
<rect x="705.67" y="420.9" width="1.6" height="2.1"/>
<rect x="709.55" y="419.9" width="1.6" height="3.1"/>
<rect x="713.44" y="416.5" width="1.6" height="6.5"/>
<rect x="717.32" y="418.9" width="1.6" height="4.1"/>
<rect x="721.21" y="412.7" width="1.6" height="10.3"/>
<rect x="725.10" y="414.9" width="1.6" height="8.1"/>
<rect x="728.98" y="419.9" width="1.6" height="3.1"/>
<rect x="732.87" y="419.9" width="1.6" height="3.1"/>
<rect x="736.76" y="410.8" width="1.6" height="12.2"/>
<rect x="740.64" y="416.8" width="1.6" height="6.2"/>
<rect x="744.53" y="419.0" width="1.6" height="4.0"/>
<rect x="748.42" y="417.6" width="1.6" height="5.4"/>
<rect x="752.30" y="416.8" width="1.6" height="6.2"/>
<rect x="756.19" y="418.4" width="1.6" height="4.6"/>
<rect x="760.08" y="421.4" width="1.6" height="1.6"/>
<rect x="763.96" y="402.7" width="1.6" height="20.3"/>
<rect x="767.85" y="414.5" width="1.6" height="8.5"/>
<rect x="771.73" y="408.9" width="1.6" height="14.1"/>
<rect x="775.62" y="401.8" width="1.6" height="21.2"/>
<rect x="779.51" y="407.8" width="1.6" height="15.2"/>
<rect x="783.39" y="402.4" width="1.6" height="20.6"/>
<rect x="787.28" y="397.8" width="1.6" height="25.2"/>
<rect x="791.17" y="398.9" width="1.6" height="24.1"/>
<rect x="795.05" y="405.8" width="1.6" height="17.2"/>
<rect x="798.94" y="417.8" width="1.6" height="5.2"/>
<rect x="802.83" y="413.6" width="1.6" height="9.4"/>
<rect x="806.71" y="417.8" width="1.6" height="5.2"/>
<rect x="810.60" y="418.6" width="1.6" height="4.4"/>
<rect x="814.48" y="411.8" width="1.6" height="11.2"/>
<rect x="818.37" y="416.1" width="1.6" height="6.9"/>
<rect x="822.26" y="418.6" width="1.6" height="4.4"/>
<rect x="826.14" y="410.8" width="1.6" height="12.2"/>
<rect x="830.03" y="418.4" width="1.6" height="4.6"/>
<rect x="833.92" y="388.7" width="1.6" height="34.3"/>
<rect x="837.80" y="414.3" width="1.6" height="8.7"/>
<rect x="841.69" y="420.9" width="1.6" height="2.1"/>
<rect x="845.58" y="412.4" width="1.6" height="10.6"/>
<rect x="849.46" y="404.9" width="1.6" height="18.1"/>
<rect x="853.35" y="408.4" width="1.6" height="14.6"/>
<rect x="857.24" y="395.8" width="1.6" height="27.2"/>
<rect x="861.12" y="413.0" width="1.6" height="10.0"/>
<rect x="865.01" y="414.0" width="1.6" height="9.0"/>
<rect x="868.89" y="412.4" width="1.6" height="10.6"/>
<rect x="872.78" y="412.4" width="1.6" height="10.6"/>
<rect x="876.67" y="415.1" width="1.6" height="7.9"/>
<rect x="880.55" y="419.9" width="1.6" height="3.1"/>
<rect x="884.44" y="413.9" width="1.6" height="9.1"/>
<rect x="888.33" y="415.5" width="1.6" height="7.5"/>
<rect x="892.21" y="413.9" width="1.6" height="9.1"/>
<rect x="896.10" y="415.1" width="1.6" height="7.9"/>
<rect x="899.99" y="413.4" width="1.6" height="9.6"/>
<rect x="903.87" y="413.9" width="1.6" height="9.1"/>
<rect x="907.76" y="416.8" width="1.6" height="6.2"/>
<rect x="911.64" y="398.1" width="1.6" height="24.9"/>
<rect x="915.53" y="389.0" width="1.6" height="34.0"/>
<rect x="919.42" y="407.0" width="1.6" height="16.0"/>
<rect x="923.30" y="406.8" width="1.6" height="16.2"/>
</g>
<g shape-rendering="crispEdges" fill="#000">
<rect x="0" y="360" width="1011" height="1"/>
<rect x="0" y="361" width="1011" height="1" fill="#f4f4f4"/>
<rect x="0" y="362" width="1011" height="1"/>
<rect x="932" y="0" width="1" height="453"/>
<rect x="0" y="423" width="938" height="1"/>
<rect x="0" y="438" width="933" height="1"/>
<rect x="10" y="423" width="1" height="30"/>
<rect x="932" y="0" width="43" height="1"/>
<rect x="934" y="1" width="42" height="1" fill="#000" opacity=".45"/>
<rect x="934" y="2" width="42" height="1" fill="#000" opacity=".18"/>
<rect x="96" y="423" width="1" height="15"/><rect x="174" y="423" width="1" height="15"/><rect x="251" y="423" width="1" height="15"/><rect x="333" y="423" width="1" height="15"/><rect x="418" y="423" width="1" height="15"/><rect x="496" y="423" width="1" height="15"/><rect x="586" y="423" width="1" height="15"/><rect x="671" y="423" width="1" height="15"/><rect x="753" y="423" width="1" height="15"/><rect x="842" y="423" width="1" height="15"/><rect x="924" y="423" width="1" height="15"/>
<rect x="933" y="355" width="3" height="1"/><rect x="933" y="332" width="5" height="1"/><rect x="933" y="308" width="3" height="1"/><rect x="933" y="284" width="5" height="1"/><rect x="933" y="261" width="3" height="1"/><rect x="933" y="237" width="5" height="1"/><rect x="933" y="213" width="3" height="1"/><rect x="933" y="190" width="5" height="1"/><rect x="933" y="166" width="3" height="1"/><rect x="933" y="143" width="5" height="1"/><rect x="933" y="119" width="3" height="1"/><rect x="933" y="95" width="5" height="1"/><rect x="933" y="72" width="3" height="1"/><rect x="933" y="48" width="5" height="1"/><rect x="933" y="24" width="3" height="1"/><rect x="933" y="1" width="5" height="1"/>
<rect x="933" y="423" width="5" height="1"/><rect x="933" y="412" width="3" height="1"/><rect x="933" y="402" width="3" height="1"/><rect x="933" y="392" width="3" height="1"/><rect x="933" y="382" width="3" height="1"/><rect x="933" y="372" width="5" height="1"/>
</g>
</svg>
<div class="abs" style="left:2px;top:411px;width:79px;height:12px;background:rgba(255,255,255,.22)"></div>
<span class="t" style="left:2.7px;top:410.5px;transform:scaleX(0.7647);color:#8e8e8e;">Fuso</span><span class="t" style="left:25.8px;top:410.5px;transform:scaleX(0.7159);color:#8e8e8e;">horário:</span><span class="t" style="left:59.7px;top:410.5px;transform:scaleX(0.8020);color:#8e8e8e;">TMG</span>
<div class="abs" style="left:0;top:423px;width:932px;height:1px;background:#000"></div>
<span class="t" style="left:45.0px;top:425.0px;transform:scaleX(0.8909);">Jan</span><span class="t" style="left:126.2px;top:425.0px;transform:scaleX(0.9817);">Fev</span><span class="t" style="left:203.2px;top:425.0px;transform:scaleX(0.9291);">Mar</span><span class="t" style="left:283.0px;top:425.0px;transform:scaleX(0.9581);">Abr</span><span class="t" style="left:366.0px;top:425.0px;transform:scaleX(0.9366);">Mai</span><span class="t" style="left:450.1px;top:425.0px;transform:scaleX(0.9078);">Jun</span><span class="t" style="left:534.8px;top:425.0px;transform:scaleX(0.8961);">Jul</span><span class="t" style="left:618.6px;top:425.0px;transform:scaleX(0.9606);">Ago</span><span class="t" style="left:703.7px;top:425.0px;transform:scaleX(0.9872);">Set</span><span class="t" style="left:787.7px;top:425.0px;transform:scaleX(1.0265);">Out</span><span class="t" style="left:874.2px;top:425.0px;transform:scaleX(0.9918);">Nov</span>
<span class="t" style="left:941.0px;top:325.0px;transform:scaleX(0.9928);">0,0700</span><span class="t" style="left:941.0px;top:277.0px;transform:scaleX(0.9928);">0,0800</span><span class="t" style="left:941.0px;top:230.0px;transform:scaleX(0.9928);">0,0900</span><span class="t" style="left:941.0px;top:183.0px;transform:scaleX(0.9928);">0,1000</span><span class="t" style="left:941.0px;top:136.0px;transform:scaleX(1.0175);">0,1100</span><span class="t" style="left:941.0px;top:88.0px;transform:scaleX(0.9928);">0,1200</span><span class="t" style="left:941.0px;top:41.0px;transform:scaleX(0.9928);">0,1300</span><span class="t" style="left:941.0px;top:-4.3px;transform:scaleX(0.9928);">0,1400</span>
<span class="t" style="left:941.3px;top:364.8px;transform:scaleX(0.9956);">500.000.000</span>
<span class="t" style="left:941.0px;top:416.0px;transform:scaleX(0.8828);">0</span>
<div class="tag" style="top:9px"></div>
<div class="tag" style="top:100px"></div>
<span class="t" style="left:936.3px;top:11.5px;transform:scaleX(0.9958);">0,1363</span>
<span class="t" style="left:936.3px;top:103.0px;transform:scaleX(1.0205);">0,1172</span>
<svg width="1011" height="453" viewBox="0 0 1011 453" style="pointer-events:none">
<path d="M933.5,15.5 L930.5,18.5 L933.5,21.5" fill="#f7f7e1" stroke="#000" stroke-width="1"/>
<path d="M933.5,105.5 L930.5,108.5 L933.5,111.5" fill="#f7f7e1" stroke="#000" stroke-width="1"/>
<rect x="933" y="16" width="1" height="5" fill="#f7f7e1"/>
<rect x="933" y="106" width="1" height="5" fill="#f7f7e1"/>
<!-- Eq icon -->
<defs><linearGradient id="lg1" x1="0" y1="0" x2="0" y2="1"><stop offset="0" stop-color="#74d948"/><stop offset="1" stop-color="#1c7f1c"/></linearGradient></defs>
<rect x="10" y="8" width="16" height="16" fill="#10993a"/>
<rect x="10.5" y="8.5" width="15" height="15" fill="none" stroke="#27a84e" stroke-width="1"/>
<path d="M10.5,8.500 h15 v4 l-15,5z" fill="#ffffff" opacity=".2"/>
<text x="13" y="19" font-family="Liberation Sans, sans-serif" font-size="10.5" font-weight="bold" fill="#f4fbf0" textLength="10.5" lengthAdjust="spacingAndGlyphs">Eq</text>
<!-- dropdown arrows -->
<path d="M73.5,15 h7 l-3.5,4z" fill="#000"/>
<path d="M216.5,15 h7 l-3.5,4z" fill="#000"/>
<path d="M97.5,377 h7 l-3.5,4z" fill="#000"/>
<!-- lightning icon -->
<path d="M877.9,24.900 L881.1,16.3 L884.700,17.9 L887.9,12.4 L892.4,11.9 L887.1,20.8 L883.5,19.1 L878.4,25.1 Z" fill="url(#lg1)" stroke="#2a9a26" stroke-width=".5"/>
<!-- small box icons -->
<g fill="none" stroke="#c6cfe0" stroke-width="1">
<rect x="902.5" y="13.5" width="8" height="8" rx="1" fill="#eef2f9"/>
<rect x="904.5" y="16.5" width="4" height="3" stroke="#e9c4c8" fill="#fbf4f5"/>
<rect x="902.5" y="376.500" width="8" height="8" rx="1" fill="#e9eef8"/>
<rect x="904.5" y="379.5" width="4" height="3" fill="#fff" stroke="#bcc5d6"/>
<path d="M918.3,377.300 l7.4,7.400 M925.7,377.300 l-7.400,7.400" stroke="#c9cfdc" stroke-width="2.4"/>
<path d="M918.3,377.300 l7.4,7.400 M925.7,377.300 l-7.400,7.400" stroke="#f1f3f8" stroke-width="1.1"/>
</g>
</svg>
<div class="abs" style="left:29px;top:11px;width:41px;height:13px;background:rgba(255,255,255,.62)"></div>
<div class="abs" style="left:93px;top:11px;width:119px;height:13px;background:rgba(255,255,255,.62)"></div>
<div class="abs" style="left:9px;top:374px;width:85px;height:14px;background:rgba(255,255,255,.62)"></div>
<span class="t" style="left:30.7px;top:10.5px;transform:scaleX(0.9095);">BCP:xlis</span>
<span class="t" style="left:94.3px;top:10.5px;transform:scaleX(0.8621);">DSMA</span><span class="t" style="left:126.7px;top:10.5px;transform:scaleX(0.8633);">50;</span><span class="t" style="left:145.4px;top:10.5px;transform:scaleX(0.8555);">200</span><span class="t" style="left:166.0px;top:10.5px;transform:scaleX(0.9184);">(BCP:xlis)</span>
<span class="t" style="left:10.0px;top:373.5px;transform:scaleX(0.8995);">Volume</span><span class="t" style="left:47.4px;top:373.5px;transform:scaleX(0.9184);">(BCP:xlis)</span>
<div id="tip" class="abs">
</div>
<span class="t" style="left:16.0px;top:246.0px;transform:scaleX(0.9506);font-weight:bold;">BCP:xlis</span>
<span class="t" style="left:18.6px;top:259.0px;transform:scaleX(0.9750);">02-Dez-2013</span>
<span class="t" style="left:19.9px;top:272.0px;transform:scaleX(0.9905);">Aberto</span><span class="t" style="left:90.6px;top:272.0px;transform:scaleX(1.0017);">0,1310</span>
<span class="t" style="left:19.9px;top:285.0px;transform:scaleX(0.9064);">Máximo</span><span class="t" style="left:90.6px;top:285.0px;transform:scaleX(1.0017);">0,1368</span>
<span class="t" style="left:19.9px;top:298.0px;transform:scaleX(0.8680);">Mínimo</span><span class="t" style="left:90.6px;top:298.0px;transform:scaleX(1.0017);">0,1295</span>
<span class="t" style="left:19.9px;top:311.0px;transform:scaleX(0.9257);">Fecho</span><span class="t" style="left:90.6px;top:311.0px;transform:scaleX(1.0017);">0,1363</span>
<span class="t" style="left:19.7px;top:324.0px;transform:scaleX(0.8559);color:#f00;">DSMA</span><span class="t" style="left:49.9px;top:324.0px;transform:scaleX(0.9943);color:#f00;">rápida</span><span class="t" style="left:90.6px;top:324.0px;transform:scaleX(1.0017);">0,1084</span>
<span class="t" style="left:19.7px;top:337.0px;transform:scaleX(0.8559);color:#088408;">DSMA</span><span class="t" style="left:49.9px;top:337.0px;transform:scaleX(1.0062);color:#088408;">lenta</span><span class="t" style="left:90.6px;top:337.0px;transform:scaleX(1.0017);">0,1017</span>
</div></body></html>
